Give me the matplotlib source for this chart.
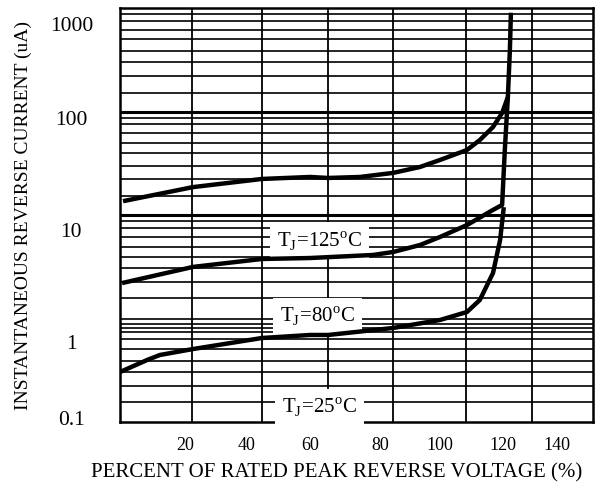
import matplotlib
matplotlib.use("Agg")
import matplotlib.pyplot as plt

plt.rcParams['font.family'] = ['Liberation Serif', 'DejaVu Serif']
plt.rcParams['mathtext.fontset'] = 'custom'
plt.rcParams['mathtext.rm'] = 'Liberation Serif'

# ---- data ----
x_125 = [0.9, 21.6, 42.0, 56.2, 61.6, 71.0, 80.8, 88.8, 94.7, 102.7, 106.5, 110.4, 113.1, 114.8, 115.4, 115.7]
y_125 = [13.6, 18.6, 22.3, 23.3, 22.8, 23.3, 25.5, 29.1, 34.0, 42.5, 53.0, 70.8, 96.7, 138, 393, 900]

x_80 = [0.6, 21.6, 42.0, 56.2, 74.9, 80.8, 88.8, 94.7, 102.7, 110.4, 113.1, 113.9, 114.8]
y_80 = [2.20, 3.15, 3.76, 3.84, 4.11, 4.39, 5.13, 6.13, 8.0, 11.2, 12.5, 42.5, 138]

x_25 = [0.0, 8.0, 11.8, 21.6, 42.0, 56.2, 61.6, 80.8, 94.7, 102.7, 106.5, 110.4, 112.5, 113.6]
y_25 = [0.304, 0.397, 0.444, 0.507, 0.648, 0.693, 0.693, 0.81, 0.967, 1.156, 1.51, 2.75, 5.73, 11.9]

curve_labels = ["T$_\\mathregular{J}$=125$^\\mathregular{o}$C",
                "T$_\\mathregular{J}$=80$^\\mathregular{o}$C",
                "T$_\\mathregular{J}$=25$^\\mathregular{o}$C"]

x_tick_labels = ["20", "40", "60", "80", "100", "120", "140"]
y_tick_labels = ["1000", "100", "10", "1", "0.1"]

# ---- layout (positions as drawn in the reference) ----
x_tick_pos = [19.2, 37.6, 56.2, 76.9, 94.7, 113.3, 129.3]
y_tick_pos = [708, 86.5, 7.16, 0.593, 0.109]
x_grid = [21.3, 42.0, 61.6, 80.8, 102.4, 121.9]
y_grid = [875, 749, 613, 502, 384, 301, 220, 151,
          86.5, 75.7, 62.0, 49.6, 39.7, 29.7, 22.3, 15.3,
          8.75, 7.49, 6.13, 4.91, 3.93, 3.07, 2.25, 1.58, 1.0,
          0.885, 0.81, 0.74, 0.634, 0.507, 0.389, 0.304, 0.223, 0.156]
y_decades = [100, 10]
label_pos = [(59.1, 5.7), (58.5, 1.06), (59.1, 0.14)]

fig = plt.figure(figsize=(5.95, 4.88), dpi=100)
ax = fig.add_axes([120/595, 66/488, 473/595, 414/488])
ax.set_yscale('log')
ax.set_xlim(0, 140)
ax.set_ylim(0.1, 1000)

for v in x_grid:
    ax.axvline(v, color='black', lw=1.3, zorder=1)
for v in y_grid:
    ax.axhline(v, color='black', lw=1.2, zorder=1)
for v in y_decades:
    ax.axhline(v, color='black', lw=2.2, zorder=1)

for xs, ys in [(x_125, y_125), (x_80, y_80), (x_25, y_25)]:
    ax.plot(xs, ys, color='black', lw=3.2, solid_capstyle='butt', zorder=4)

for (lx, ly), txt in zip(label_pos, curve_labels):
    ax.text(lx, ly, txt, fontsize=15, ha='center', va='center', zorder=3,
            bbox=dict(facecolor='white', edgecolor='none', pad=5))

ax.xaxis.set_major_locator(matplotlib.ticker.FixedLocator(x_tick_pos))
ax.xaxis.set_major_formatter(matplotlib.ticker.FixedFormatter(x_tick_labels))
ax.yaxis.set_major_locator(matplotlib.ticker.FixedLocator(y_tick_pos))
ax.yaxis.set_major_formatter(matplotlib.ticker.FixedFormatter(y_tick_labels))
ax.yaxis.set_minor_locator(matplotlib.ticker.NullLocator())
ax.xaxis.set_minor_locator(matplotlib.ticker.NullLocator())
ax.tick_params(axis='x', length=0, pad=11, labelsize=13)
ax.tick_params(axis='y', length=0, pad=35, labelsize=15.5)
for t in ax.get_yticklabels():
    t.set_ha('center')

for s in ax.spines.values():
    s.set_linewidth(1.8)

ax.set_xlabel("PERCENT OF RATED PEAK REVERSE VOLTAGE (%)", fontsize=15)
ax.set_ylabel("INSTANTANEOUS REVERSE CURRENT (uA)", fontsize=14)
ax.xaxis.set_label_coords(0.457, -0.099)
ax.yaxis.set_label_coords(-0.186, 0.5)

fig.savefig("out.png", dpi=100)
